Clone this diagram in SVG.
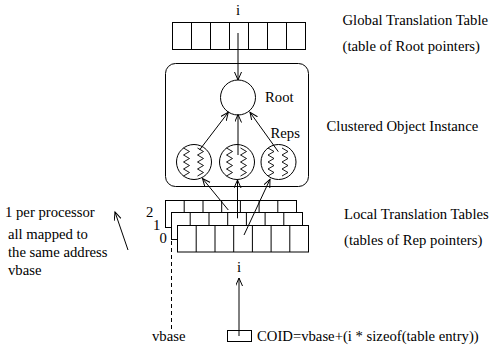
<svg xmlns="http://www.w3.org/2000/svg" width="493" height="352" viewBox="0 0 493 352">
<style>
.ln{fill:none;stroke:#000;stroke-width:1}
.bx{fill:#fff;stroke:#000;stroke-width:1}
.t{font-family:'Liberation Serif','Times New Roman',serif;font-size:14.7px;fill:#000}
.con{fill:none;stroke:#000;stroke-width:1;marker-end:url(#arr)}
</style>
<defs>
<marker id="arr" markerUnits="userSpaceOnUse" markerWidth="10" markerHeight="8" refX="8" refY="3.5" orient="auto">
<path d="M0,0 L8,3.5 L0,7" fill="none" stroke="#000" stroke-width="1"/>
</marker>
<path id="zz" d="M-3,-14 l6,3.5 l-6,3.5 l6,3.5 l-6,3.5 l6,3.5 l-6,3.5 l6,3.5 l-6,3.5" fill="none" stroke="#000" stroke-width="0.9"/>
</defs>

<g id="global-table">
<rect class="bx" x="172.5" y="22.5" width="133" height="27"/>
<path class="ln" d="M191.5,22.5v27M210.5,22.5v27M229.5,22.5v27M248.5,22.5v27M267.5,22.5v27M286.5,22.5v27"/>
<text class="t" font-family="Liberation Serif, serif" x="238" y="15" text-anchor="middle">i</text>
</g>

<g id="cluster">
<rect class="ln" x="165.5" y="63.5" width="143" height="123" rx="10"/>
</g>

<g id="root">
<circle class="ln" cx="238" cy="97.5" r="17.5"/>
<text class="t" font-family="Liberation Serif, serif" x="265" y="102">Root</text>
</g>

<g id="reps">
<circle class="ln" cx="194" cy="162" r="17.5"/>
<use href="#zz" x="186.5" y="162"/>
<use href="#zz" x="200.5" y="162"/>
<circle class="ln" cx="237" cy="162" r="17.5"/>
<use href="#zz" x="229.5" y="162"/>
<use href="#zz" x="243.5" y="162"/>
<circle class="ln" cx="278.5" cy="162" r="17.5"/>
<use href="#zz" x="271" y="162"/>
<use href="#zz" x="285" y="162"/>
<text class="t" font-family="Liberation Serif, serif" x="270.5" y="138">Reps</text>
</g>

<g id="local-table-2">
<rect class="bx" x="165.5" y="200.5" width="131" height="27"/>
<path class="ln" d="M184.2,200.5v27M203,200.5v27M221.7,200.5v27M240.4,200.5v27M259.1,200.5v27M277.8,200.5v27"/>
<text class="t" font-family="Liberation Serif, serif" x="146" y="217">2</text>
</g>
<g id="local-table-1">
<rect class="bx" x="171.5" y="212.5" width="131" height="27"/>
<path class="ln" d="M190.2,212.5v27M209,212.5v27M227.7,212.5v27M246.4,212.5v27M265.1,212.5v27M283.8,212.5v27"/>
<text class="t" font-family="Liberation Serif, serif" x="153" y="230">1</text>
</g>
<g id="local-table-0">
<rect class="bx" x="177.5" y="225.5" width="131" height="26.5"/>
<path class="ln" d="M196.2,225.5v26.5M215,225.5v26.5M233.7,225.5v26.5M252.4,225.5v26.5M271.1,225.5v26.5M289.8,225.5v26.5"/>
<text class="t" font-family="Liberation Serif, serif" x="159.5" y="243">0</text>
</g>

<g id="coid-box">
<rect class="ln" x="227.5" y="330.5" width="24" height="11"/>
<text class="t" font-family="Liberation Serif, serif" x="257" y="341">COID=vbase+(i * sizeof(table entry))</text>
<text class="t" font-family="Liberation Serif, serif" x="239" y="272" text-anchor="middle">i</text>
</g>

<g id="vbase">
<path class="ln" d="M171.5,241V330" stroke-dasharray="4,3"/>
<text class="t" font-family="Liberation Serif, serif" x="152" y="341">vbase</text>
</g>

<g id="labels" font-family="Liberation Serif, serif">
<text class="t" font-family="Liberation Serif, serif" x="342.5" y="25">Global Translation Table</text>
<text class="t" font-family="Liberation Serif, serif" x="342.5" y="51">(table of Root pointers)</text>
<text class="t" font-family="Liberation Serif, serif" x="326.5" y="131">Clustered Object Instance</text>
<text class="t" font-family="Liberation Serif, serif" x="344" y="219">Local Translation Tables</text>
<text class="t" font-family="Liberation Serif, serif" x="344" y="245">(tables of Rep pointers)</text>
<text class="t" font-family="Liberation Serif, serif" x="5" y="217">1 per processor</text>
<text class="t" font-family="Liberation Serif, serif" x="8" y="239">all mapped to</text>
<text class="t" font-family="Liberation Serif, serif" x="8" y="257">the same address</text>
<text class="t" font-family="Liberation Serif, serif" x="8" y="275">vbase</text>
</g>

<g id="connectors">
<path class="con" d="M238,33V80"/>
<path class="con" d="M199.5,150L228.3,112.3"/>
<path class="con" d="M238,155V114.5"/>
<path class="con" d="M278.3,151.7L250,112.3"/>
<path class="con" d="M228.3,210L202.5,178.5"/>
<path class="con" d="M237.5,218.3V180"/>
<path class="con" d="M244,235L270,179.3"/>
<path class="con" d="M239,336V278"/>
<path class="con" d="M128,250L115,212"/>
</g>
</svg>
